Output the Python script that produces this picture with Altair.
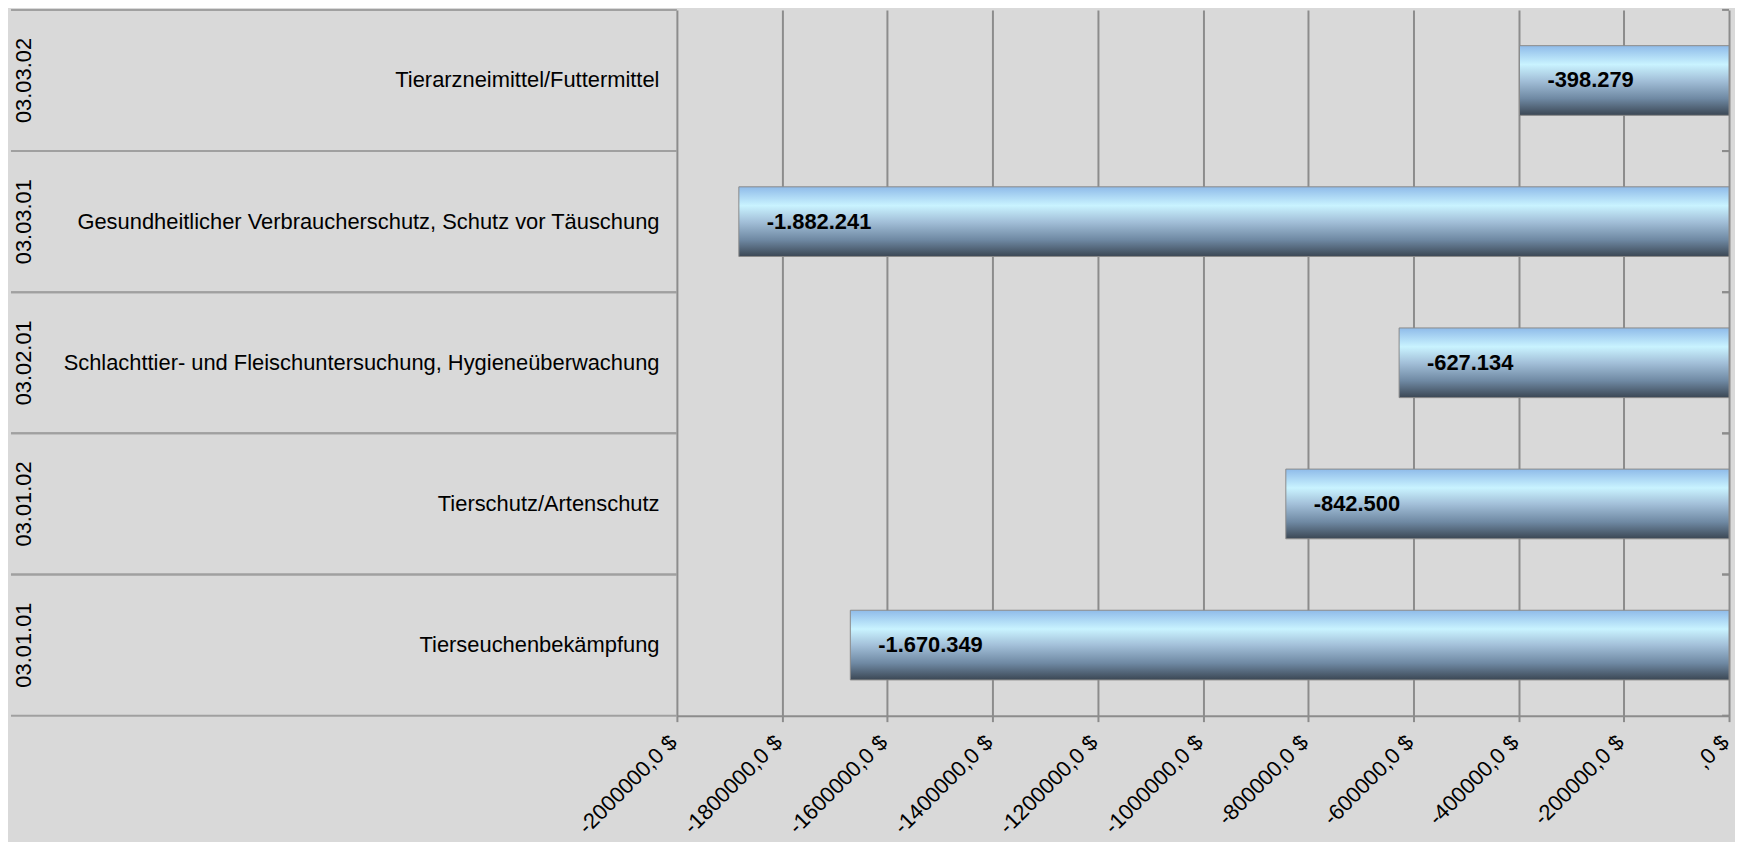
import altair as alt
import pandas as pd

codes = ["03.03.02", "03.03.01", "03.02.01", "03.01.02", "03.01.01"]
names = [
    "Tierarzneimittel/Futtermittel",
    "Gesundheitlicher Verbraucherschutz, Schutz vor Täuschung",
    "Schlachttier- und Fleischuntersuchung, Hygieneüberwachung",
    "Tierschutz/Artenschutz",
    "Tierseuchenbekämpfung",
]
values = [-398279, -1882241, -627134, -842500, -1670349]
x_ticks = [-2000000, -1800000, -1600000, -1400000, -1200000, -1000000,
           -800000, -600000, -400000, -200000, 0]

labels = [f"{v:,}".replace(",", ".") for v in values]
df = pd.DataFrame({"code": codes, "name": names, "value": values, "label": labels})

FONT = "Liberation Sans"
GRID = "#8c8c8c"
W, H = 1057, 709

yscale = alt.Scale(domain=names, paddingInner=0, paddingOuter=0)
xscale = alt.Scale(domain=[-2000000, 0], nice=False, zero=False)

grad = alt.Gradient(
    gradient="linear", x1=0, y1=0, x2=0, y2=1,
    stops=[
        alt.GradientStop(color="#8fbbe9", offset=0),
        alt.GradientStop(color="#c9f3ff", offset=0.27),
        alt.GradientStop(color="#a3c0d9", offset=0.5),
        alt.GradientStop(color="#6f89a3", offset=0.76),
        alt.GradientStop(color="#3b4754", offset=1),
    ],
)

base = alt.Chart(df)

label_expr = (
    "datum.value == 0 ? ',0 $' : "
    "(datum.value < 0 ? '-' : '') + replace(format(abs(datum.value), '.1f'), '.', ',') + ' $'"
)

bars = base.mark_bar(size=70, fill=grad, stroke="#8a8a8a", strokeWidth=1).encode(
    x=alt.X(
        "value:Q", scale=xscale, title=None,
        axis=alt.Axis(
            values=x_ticks,
            labelExpr=label_expr,
            labelAngle=-45, labelAlign="right", labelBaseline="middle",
            labelFont=FONT, labelFontSize=22, labelColor="#000000",
            labelPadding=17, labelOffset=-4, labelOverlap=False,
            labelBound=False, labelFlush=False,
            grid=True, gridColor=GRID, gridWidth=2,
            domainColor=GRID, domainWidth=2,
            tickColor=GRID, tickWidth=2, tickSize=6,
        ),
    ),
    x2=alt.datum(0),
    y=alt.Y(
        "name:N", scale=yscale, sort=None, title=None,
        axis=alt.Axis(
            orient="left", domain=False, ticks=False, grid=False,
            labelFont=FONT, labelFontSize=22, labelColor="#000000",
            labelPadding=18, labelLimit=900,
        ),
    ),
)

text = base.mark_text(
    align="left", baseline="middle", dx=28,
    font=FONT, fontSize=22, fontWeight="bold", color="#000000",
).encode(
    x=alt.X("value:Q", scale=xscale),
    y=alt.Y("name:N", scale=yscale, sort=None),
    text="label:N",
)

codes_txt = base.mark_text(
    angle=270, align="center", baseline="middle",
    font=FONT, fontSize=22, color="#000000",
).encode(
    x=alt.value(-656),
    y=alt.Y("name:N", scale=yscale, sort=None),
    text="code:N",
)

sep_top = base.mark_rule(color="#a0a0a0", strokeWidth=2).encode(
    x=alt.value(-669), x2=alt.value(0),
    y=alt.Y("name:N", scale=yscale, sort=None, bandPosition=0),
)
sep_bot = base.mark_rule(color="#a0a0a0", strokeWidth=2).encode(
    x=alt.value(-669), x2=alt.value(0),
    y=alt.Y("name:N", scale=yscale, sort=None, bandPosition=1),
)
rt_top = base.mark_rule(color=GRID, strokeWidth=2).encode(
    x=alt.value(W - 7), x2=alt.value(W),
    y=alt.Y("name:N", scale=yscale, sort=None, bandPosition=0),
)
rt_bot = base.mark_rule(color=GRID, strokeWidth=2).encode(
    x=alt.value(W - 7), x2=alt.value(W),
    y=alt.Y("name:N", scale=yscale, sort=None, bandPosition=1),
)

chart = alt.layer(sep_top, sep_bot, rt_top, rt_bot, bars, text, codes_txt).properties(
    width=W, height=H,
    autosize=alt.AutoSizeParams(type="none"),
    padding={"left": 672, "top": 0, "right": 6, "bottom": 125},
    background="#d9d9d9",
).configure_view(strokeWidth=0)

chart.save("out.html", embed_options={"renderer": "svg", "actions": False})
